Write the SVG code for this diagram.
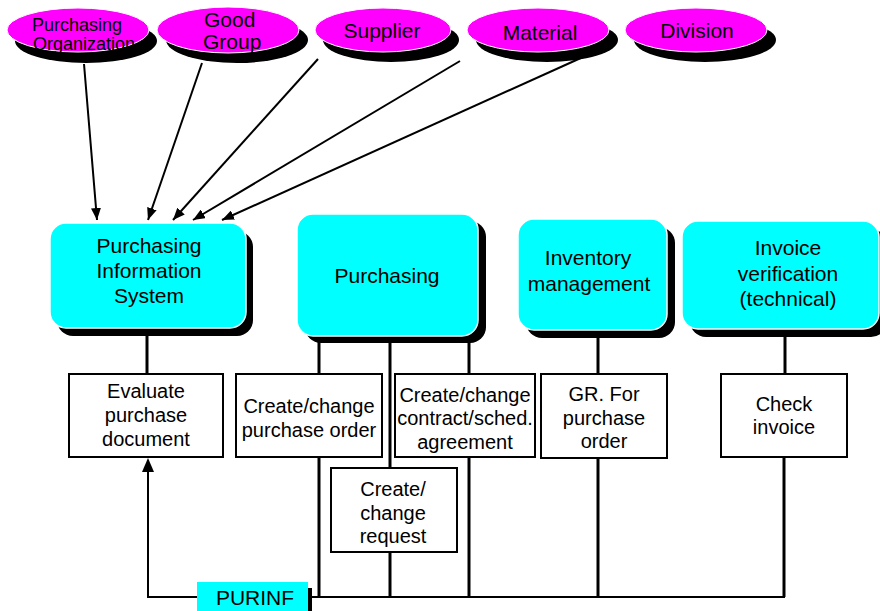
<svg xmlns="http://www.w3.org/2000/svg" width="880" height="611" viewBox="0 0 880 611">
<defs>
<style>
text{font-family:"Liberation Sans",Arial,sans-serif;fill:#000;text-anchor:middle}
.ell{fill:#ff00ff;stroke:#fff;stroke-width:1}
.sh{fill:#000}
.big{fill:#00ffff;stroke:#fff;stroke-width:1.5}
.box{fill:#fff;stroke:#000;stroke-width:2}
.ln{fill:none;stroke:#000;stroke-width:3}
.ar{fill:none;stroke:#000;stroke-width:2}
.t21{font-size:21px}
.t20{font-size:20px}
.t18{font-size:18px}
.st{text-anchor:start}
</style>
<marker id="ah" viewBox="0 0 12 10" refX="12" refY="5" markerWidth="12" markerHeight="10" markerUnits="userSpaceOnUse" orient="auto">
<path d="M0,0 L12,5 L0,10 z" fill="#000"/>
</marker>
</defs>

<g id="e-purchorg">
<ellipse class="sh" cx="86" cy="41" rx="71" ry="22"/>
<ellipse class="ell" cx="78" cy="30" rx="71" ry="22"/>
<text class="t18 st" x="32" y="31">Purchasing</text>
<text class="t18 st" x="33" y="50">Organization</text>
</g>
<g id="e-goodgroup">
<ellipse class="sh" cx="237" cy="40" rx="71" ry="23"/>
<ellipse class="ell" cx="228" cy="30" rx="71" ry="23"/>
<text class="t21 st" x="204" y="27">Good</text>
<text class="t21 st" x="203" y="49">Group</text>
</g>
<g id="e-supplier">
<ellipse class="sh" cx="391" cy="40" rx="68" ry="22"/>
<ellipse class="ell" cx="383" cy="30" rx="68" ry="22"/>
<text class="t21" x="382" y="38">Supplier</text>
</g>
<g id="e-material">
<ellipse class="sh" cx="547" cy="40" rx="71" ry="22"/>
<ellipse class="ell" cx="538" cy="30" rx="71" ry="22"/>
<text class="t21" x="540" y="40">Material</text>
</g>
<g id="e-division">
<ellipse class="sh" cx="705" cy="40" rx="71" ry="22"/>
<ellipse class="ell" cx="696" cy="30" rx="71" ry="22"/>
<text class="t21" x="697" y="38">Division</text>
</g>

<g id="connectors">
<line class="ar" x1="84" y1="64" x2="97" y2="220" marker-end="url(#ah)"/>
<line class="ar" x1="202" y1="63" x2="148" y2="220" marker-end="url(#ah)"/>
<line class="ar" x1="318" y1="59" x2="173" y2="220" marker-end="url(#ah)"/>
<line class="ar" x1="460" y1="61" x2="193" y2="220" marker-end="url(#ah)"/>
<line class="ar" x1="583" y1="57" x2="222" y2="220" marker-end="url(#ah)"/>
<line class="ln" x1="147" y1="334" x2="147" y2="374"/>
<line class="ln" x1="319" y1="340" x2="319" y2="597"/>
<line class="ln" x1="390" y1="340" x2="390" y2="468"/>
<line class="ln" x1="390" y1="552" x2="390" y2="597"/>
<line class="ln" x1="469" y1="340" x2="469" y2="374"/>
<line class="ln" x1="469" y1="457" x2="469" y2="597"/>
<line class="ln" x1="598" y1="336" x2="598" y2="374"/>
<line class="ln" x1="598" y1="458" x2="598" y2="597"/>
<line class="ln" x1="785" y1="335" x2="785" y2="374"/>
<line class="ln" x1="784" y1="457" x2="784" y2="597"/>
<polyline class="ar" points="312,597 785,597"/>
<polyline class="ar" points="197,597 148,597 148,470"/>
<path d="M148,458 L142,472 L154,472 z" fill="#000"/>
</g>

<g id="b-pis">
<rect class="sh" x="57" y="231" width="196" height="105" rx="16"/>
<rect class="big" x="50" y="223" width="196" height="105" rx="16"/>
<text class="t21" x="149" y="253">Purchasing</text>
<text class="t21" x="149" y="278">Information</text>
<text class="t21" x="149" y="303">System</text>
</g>
<g id="b-purchasing">
<rect class="sh" x="305" y="221" width="181" height="122" rx="16"/>
<rect class="big" x="297" y="214" width="181" height="122" rx="16"/>
<text class="t21" x="387" y="283">Purchasing</text>
</g>
<g id="b-inventory">
<rect class="sh" x="526" y="227" width="149" height="111" rx="16"/>
<rect class="big" x="518" y="219" width="149" height="111" rx="16"/>
<text class="t21" x="588" y="265">Inventory</text>
<text class="t21" x="589" y="291">management</text>
</g>
<g id="b-invoice">
<rect class="sh" x="690" y="229" width="197" height="108" rx="16"/>
<rect class="big" x="682" y="221" width="197" height="108" rx="16"/>
<text class="t21" x="788" y="255">Invoice</text>
<text class="t21" x="788" y="281">verification</text>
<text class="t21" x="788" y="306">(technical)</text>
</g>

<g id="t-evaluate">
<rect class="box" x="69" y="374" width="154" height="83"/>
<text class="t20" x="146" y="398">Evaluate</text>
<text class="t20" x="146" y="422">purchase</text>
<text class="t20" x="146" y="446">document</text>
</g>
<g id="t-po">
<rect class="box" x="236" y="374" width="146" height="83"/>
<text class="t20" x="309" y="413">Create/change</text>
<text class="t20" x="309" y="437">purchase order</text>
</g>
<g id="t-contract">
<rect class="box" x="395" y="374" width="140" height="83"/>
<text class="t20" x="465" y="402">Create/change</text>
<text class="t20" x="465" y="425">contract/sched.</text>
<text class="t20" x="465" y="449">agreement</text>
</g>
<g id="t-request">
<rect class="box" x="331" y="468" width="126" height="84"/>
<text class="t20" x="393" y="496">Create/</text>
<text class="t20" x="393" y="520">change</text>
<text class="t20" x="393" y="543">request</text>
</g>
<g id="t-gr">
<rect class="box" x="541" y="374" width="126" height="84"/>
<text class="t20" x="604" y="401">GR. For</text>
<text class="t20" x="604" y="425">purchase</text>
<text class="t20" x="604" y="448">order</text>
</g>
<g id="t-check">
<rect class="box" x="721" y="374" width="126" height="83"/>
<text class="t20" x="784" y="411">Check</text>
<text class="t20" x="784" y="434">invoice</text>
</g>
<g id="t-purinf">
<rect class="sh" x="201" y="588" width="111" height="26"/>
<rect x="197" y="582" width="111" height="29" fill="#00ffff"/>
<text class="t21" x="255" y="605">PURINF</text>
</g>
</svg>
